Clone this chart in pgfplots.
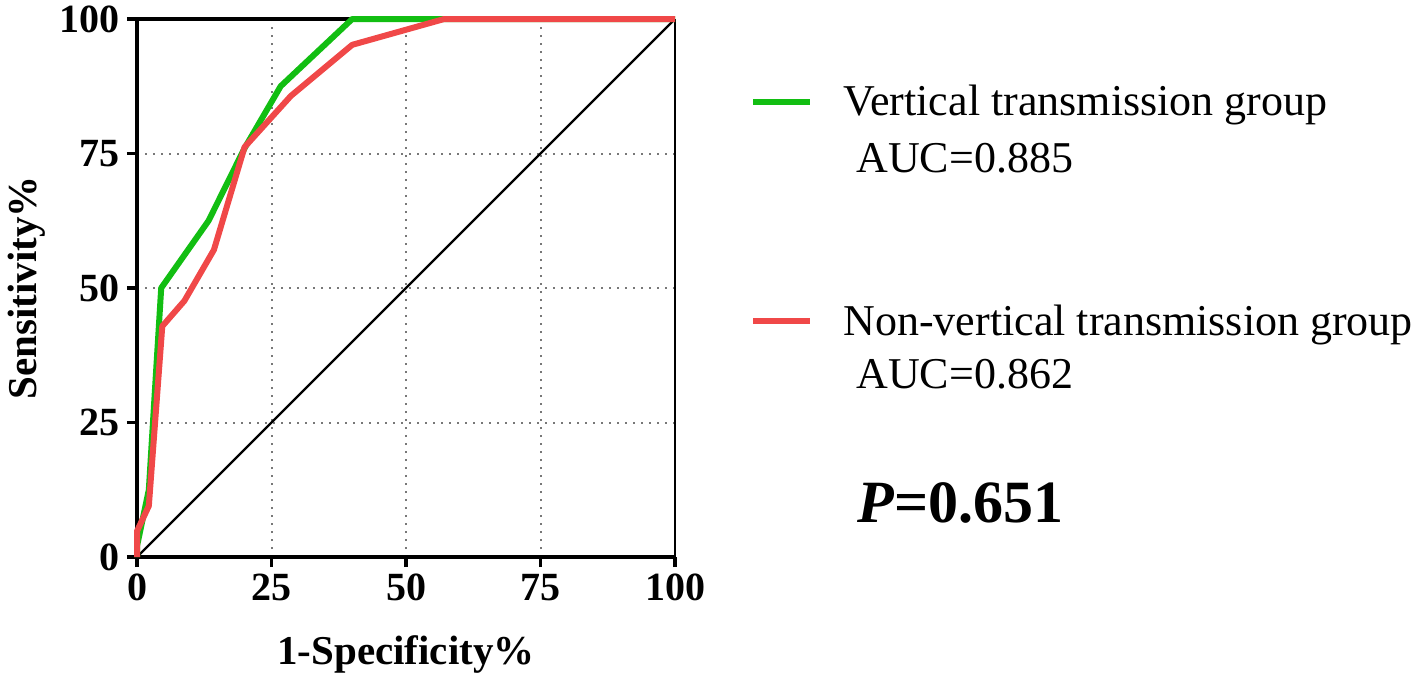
\documentclass[border=0pt]{standalone}
\usepackage{fontspec}
\setmainfont{Liberation Serif}
\usepackage{pgfplots}
\pgfplotsset{compat=1.18}
\definecolor{rocgreen}{RGB}{18,190,18}
\definecolor{rocred}{RGB}{240,72,72}
\definecolor{gridgray}{RGB}{120,120,120}
\begin{document}
\begin{tikzpicture}[x=0.5pt,y=-0.5pt]
\begin{axis}[
  at={(68.5pt,-278.5pt)}, anchor=south west,
  scale only axis, width=269pt, height=269pt,
  xmin=0, xmax=100, ymin=0, ymax=100,
  axis x line*=bottom, axis y line*=left,
  clip=false,
  xtick={0,25,50,75,100}, ytick={0,25,50,75,100},
  tick align=outside,
  major tick length=5pt,
  tick style={line width=1.6pt, black},
  axis line style={line width=1.6pt, black},
  grid=major,
  grid style={gridgray, line width=1pt, dash pattern=on 1pt off 3pt},
  /pgf/number format/assume math mode=true,
  ticklabel style={font=\fontsize{20}{24}\selectfont\bfseries},
  label style={font=\fontsize{20.5}{24}\selectfont\bfseries},
  xlabel={1-Specificity\%},
  ylabel={Sensitivity\%},
  xlabel style={at={(axis description cs:0.5,-0.2007)}, anchor=base},
  ylabel style={at={(axis description cs:-0.186,0.5)}, anchor=base},
]
\draw[black, line width=1.6pt] (axis cs:0,100) -- (axis cs:100,100);
\draw[black, line width=0.8pt] (axis cs:100,0) -- (axis cs:100,100);
\addplot[black, line width=1.2pt] coordinates {(0,0) (100,100)};
\addplot[rocgreen, line width=3pt, line join=round] coordinates {
  (0,0) (0,2) (2.2,12.5) (4.5,50) (13.3,62.5) (20,76) (26.7,87.5) (40,100) (100,100)};
\addplot[rocred, line width=3pt, line join=round] coordinates {
  (0,0) (0,4.8) (2.2,9.5) (4.7,42.9) (8.8,47.6) (14.3,57.1) (20,76.2) (28.6,85.7) (40,95.2) (57.1,100) (100,100)};
\end{axis}
\draw[rocgreen, line width=3pt] (753,102) -- (810,102);
\draw[rocred, line width=3pt] (753,321) -- (810,321);
\node[anchor=base west, inner sep=0pt, font=\fontsize{22}{26}\selectfont] at (843,115) {Vertical transmission group};
\node[anchor=base west, inner sep=0pt, font=\fontsize{22}{26}\selectfont] at (856,172) {AUC=0.885};
\node[anchor=base west, inner sep=0pt, font=\fontsize{22}{26}\selectfont] at (843,335) {Non-vertical transmission group};
\node[anchor=base west, inner sep=0pt, font=\fontsize{22}{26}\selectfont] at (856,388) {AUC=0.862};
\node[anchor=base west, inner sep=0pt, font=\fontsize{30}{34}\selectfont\bfseries] at (857,522) {\textit{P}=0.651};
\pgfresetboundingbox
\path[use as bounding box] (0,0) rectangle (1418,681);
\end{tikzpicture}
\end{document}
